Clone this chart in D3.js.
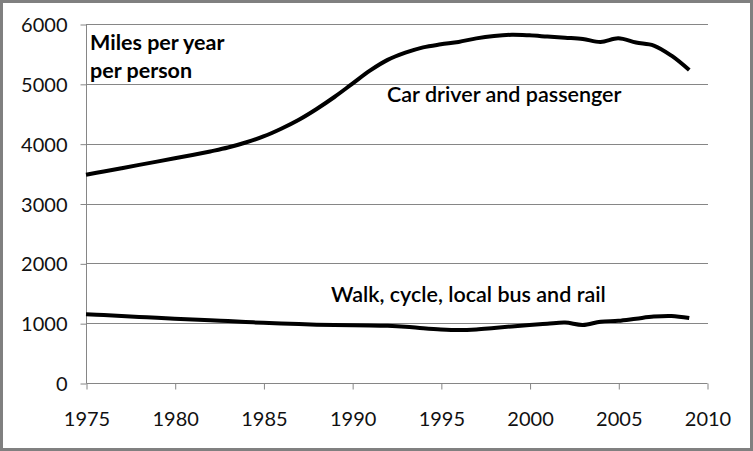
<!DOCTYPE html>
<html><head><meta charset="utf-8">
<script src="https://cdn.jsdelivr.net/npm/d3@7"></script>
<style>body{margin:0;background:#fff}svg{display:block}text{font-family:Lato,"Open Sans",sans-serif}</style>
</head><body>
<svg id="c" width="753" height="451"></svg>
<script>
const years = d3.range(1975, 2010);
const carValues = [3480,3535,3590,3645,3700,3755,3810,3870,3935,4020,4120,4250,4400,4580,4780,5000,5220,5400,5520,5610,5660,5700,5760,5800,5820,5810,5790,5770,5750,5700,5760,5690,5640,5470,5230];
const walkValues = [1150,1135,1120,1105,1090,1075,1062,1050,1035,1020,1005,995,985,975,970,965,962,955,940,915,895,885,895,920,945,970,990,1010,970,1025,1040,1075,1110,1120,1085];
const xTicks = [1975,1980,1985,1990,1995,2000,2005,2010];
const yTicks = [0,1000,2000,3000,4000,5000,6000];
const seriesLabels = ["Car driver and passenger","Walk, cycle, local bus and rail"];
const axisTitle = ["Miles per year","per person"];

const svg = d3.select("#c");
svg.append("rect").attr("x",1.5).attr("y",1.5).attr("width",750).attr("height",448)
  .attr("fill","#fff").attr("stroke","#808080").attr("stroke-width",3);

const x = d3.scaleLinear().domain([1975,2010]).range([86,707]);
const y = d3.scaleLinear().domain([0,6000]).range([383,24]);
const grid = "#868686";

svg.append("g").selectAll("line").data(yTicks.filter(d=>d>0)).join("line")
  .attr("x1",86).attr("x2",708).attr("y1",d=>Math.round(y(d))+0.5).attr("y2",d=>Math.round(y(d))+0.5)
  .attr("stroke",grid).attr("stroke-width",1);

const ya = svg.append("g").attr("transform","translate(86.5,0.5)")
  .call(d3.axisLeft(y).tickValues(yTicks).tickSize(6).tickPadding(13).tickFormat(d3.format("d")));
ya.select(".domain").attr("stroke",grid).attr("d","M0,"+y(6000)+"V"+y(0));
ya.selectAll(".tick line").attr("stroke",grid);
ya.selectAll("text").attr("font-size",20).attr("fill","#111").attr("dy","0.35em");

const xa = svg.append("g").attr("transform","translate(0.5,383.5)")
  .call(d3.axisBottom(x).tickValues(xTicks).tickSize(6).tickPadding(22).tickFormat(d3.format("d")));
xa.select(".domain").attr("stroke",grid).attr("d","M"+x(1975)+",0H"+x(2010));
xa.selectAll(".tick line").attr("stroke",grid);
xa.selectAll("text").attr("font-size",20).attr("fill","#111");

const line = d3.line().x((d,i)=>x(years[i])).y(d=>y(d)).curve(d3.curveCatmullRom.alpha(0.5));
[carValues, walkValues].forEach(v=>{
  svg.append("path").attr("d",line(v)).attr("fill","none").attr("stroke","#000")
    .attr("stroke-width",4).attr("stroke-linejoin","round");
});

svg.append("text").attr("x",90).attr("y",50).attr("font-size",21.5).attr("font-weight","bold").text(axisTitle[0]);
svg.append("text").attr("x",90).attr("y",78).attr("font-size",21.5).attr("font-weight","bold").text(axisTitle[1]);
svg.append("text").attr("x",387).attr("y",102).attr("font-size",21.5).attr("font-weight","600").text(seriesLabels[0]);
svg.append("text").attr("x",331).attr("y",302).attr("font-size",21.5).attr("font-weight","600").text(seriesLabels[1]);
</script>
</body></html>
